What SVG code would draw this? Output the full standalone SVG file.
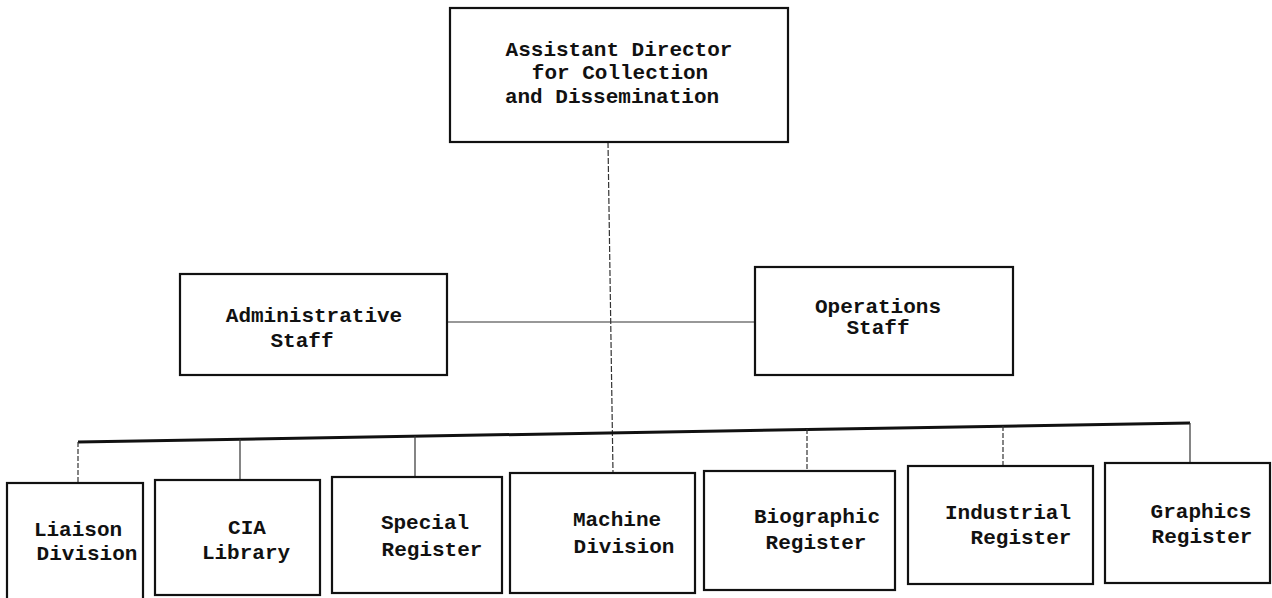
<svg xmlns="http://www.w3.org/2000/svg" width="1272" height="598" viewBox="0 0 1272 598">
<style>
.box{fill:#fff;stroke:#111;stroke-width:2.2}
.t{font-family:"Liberation Mono","DejaVu Sans Mono",monospace;font-weight:bold;font-size:21px;fill:#111;text-anchor:middle}
.thin{stroke:#333;stroke-width:1.2;fill:none}
.bus{stroke:#111;stroke-width:3;fill:none}
</style>
<rect width="1272" height="598" fill="#fff"/>
<g id="connectors">
<line class="thin" x1="608" y1="142" x2="613" y2="473" stroke-dasharray="6 2"/>
<line class="thin" x1="447" y1="322" x2="755" y2="322"/>
<line class="bus" x1="78" y1="442" x2="1190" y2="423"/>
<line class="thin" x1="78" y1="442" x2="78" y2="483" stroke-dasharray="5 2"/>
<line class="thin" x1="240" y1="439" x2="240" y2="480"/>
<line class="thin" x1="415" y1="436" x2="415" y2="477"/>
<line class="thin" x1="807" y1="429" x2="807" y2="471" stroke-dasharray="5 2"/>
<line class="thin" x1="1003" y1="426" x2="1003" y2="466" stroke-dasharray="5 2"/>
<line class="thin" x1="1190" y1="423" x2="1190" y2="463"/>
</g>
<g id="n-director">
<rect class="box" x="450" y="8" width="338" height="134"/>
<text class="t" x="619" y="56">Assistant Director</text>
<text class="t" x="620" y="79">for Collection</text>
<text class="t" x="612" y="103">and Dissemination</text>
</g>
<g id="n-admin">
<rect class="box" x="180" y="274" width="267" height="101"/>
<text class="t" x="314" y="322">Administrative</text>
<text class="t" x="302" y="347">Staff</text>
</g>
<g id="n-ops">
<rect class="box" x="755" y="267" width="258" height="108"/>
<text class="t" x="878" y="313">Operations</text>
<text class="t" x="878" y="334">Staff</text>
</g>
<g id="n-liaison">
<rect class="box" x="7" y="483" width="136" height="120"/>
<text class="t" x="78" y="536">Liaison</text>
<text class="t" x="87" y="560">Division</text>
</g>
<g id="n-cia">
<rect class="box" x="155" y="480" width="165" height="115"/>
<text class="t" x="247" y="534">CIA</text>
<text class="t" x="246" y="559">Library</text>
</g>
<g id="n-special">
<rect class="box" x="332" y="477" width="170" height="116"/>
<text class="t" x="425" y="529">Special</text>
<text class="t" x="432" y="556">Register</text>
</g>
<g id="n-machine">
<rect class="box" x="510" y="473" width="185" height="120"/>
<text class="t" x="617" y="526">Machine</text>
<text class="t" x="624" y="553">Division</text>
</g>
<g id="n-biographic">
<rect class="box" x="704" y="471" width="191" height="119"/>
<text class="t" x="817" y="523">Biographic</text>
<text class="t" x="816" y="549">Register</text>
</g>
<g id="n-industrial">
<rect class="box" x="908" y="466" width="185" height="118"/>
<text class="t" x="1008" y="519">Industrial</text>
<text class="t" x="1021" y="544">Register</text>
</g>
<g id="n-graphics">
<rect class="box" x="1105" y="463" width="165" height="120"/>
<text class="t" x="1201" y="518">Graphics</text>
<text class="t" x="1202" y="543">Register</text>
</g>
</svg>
